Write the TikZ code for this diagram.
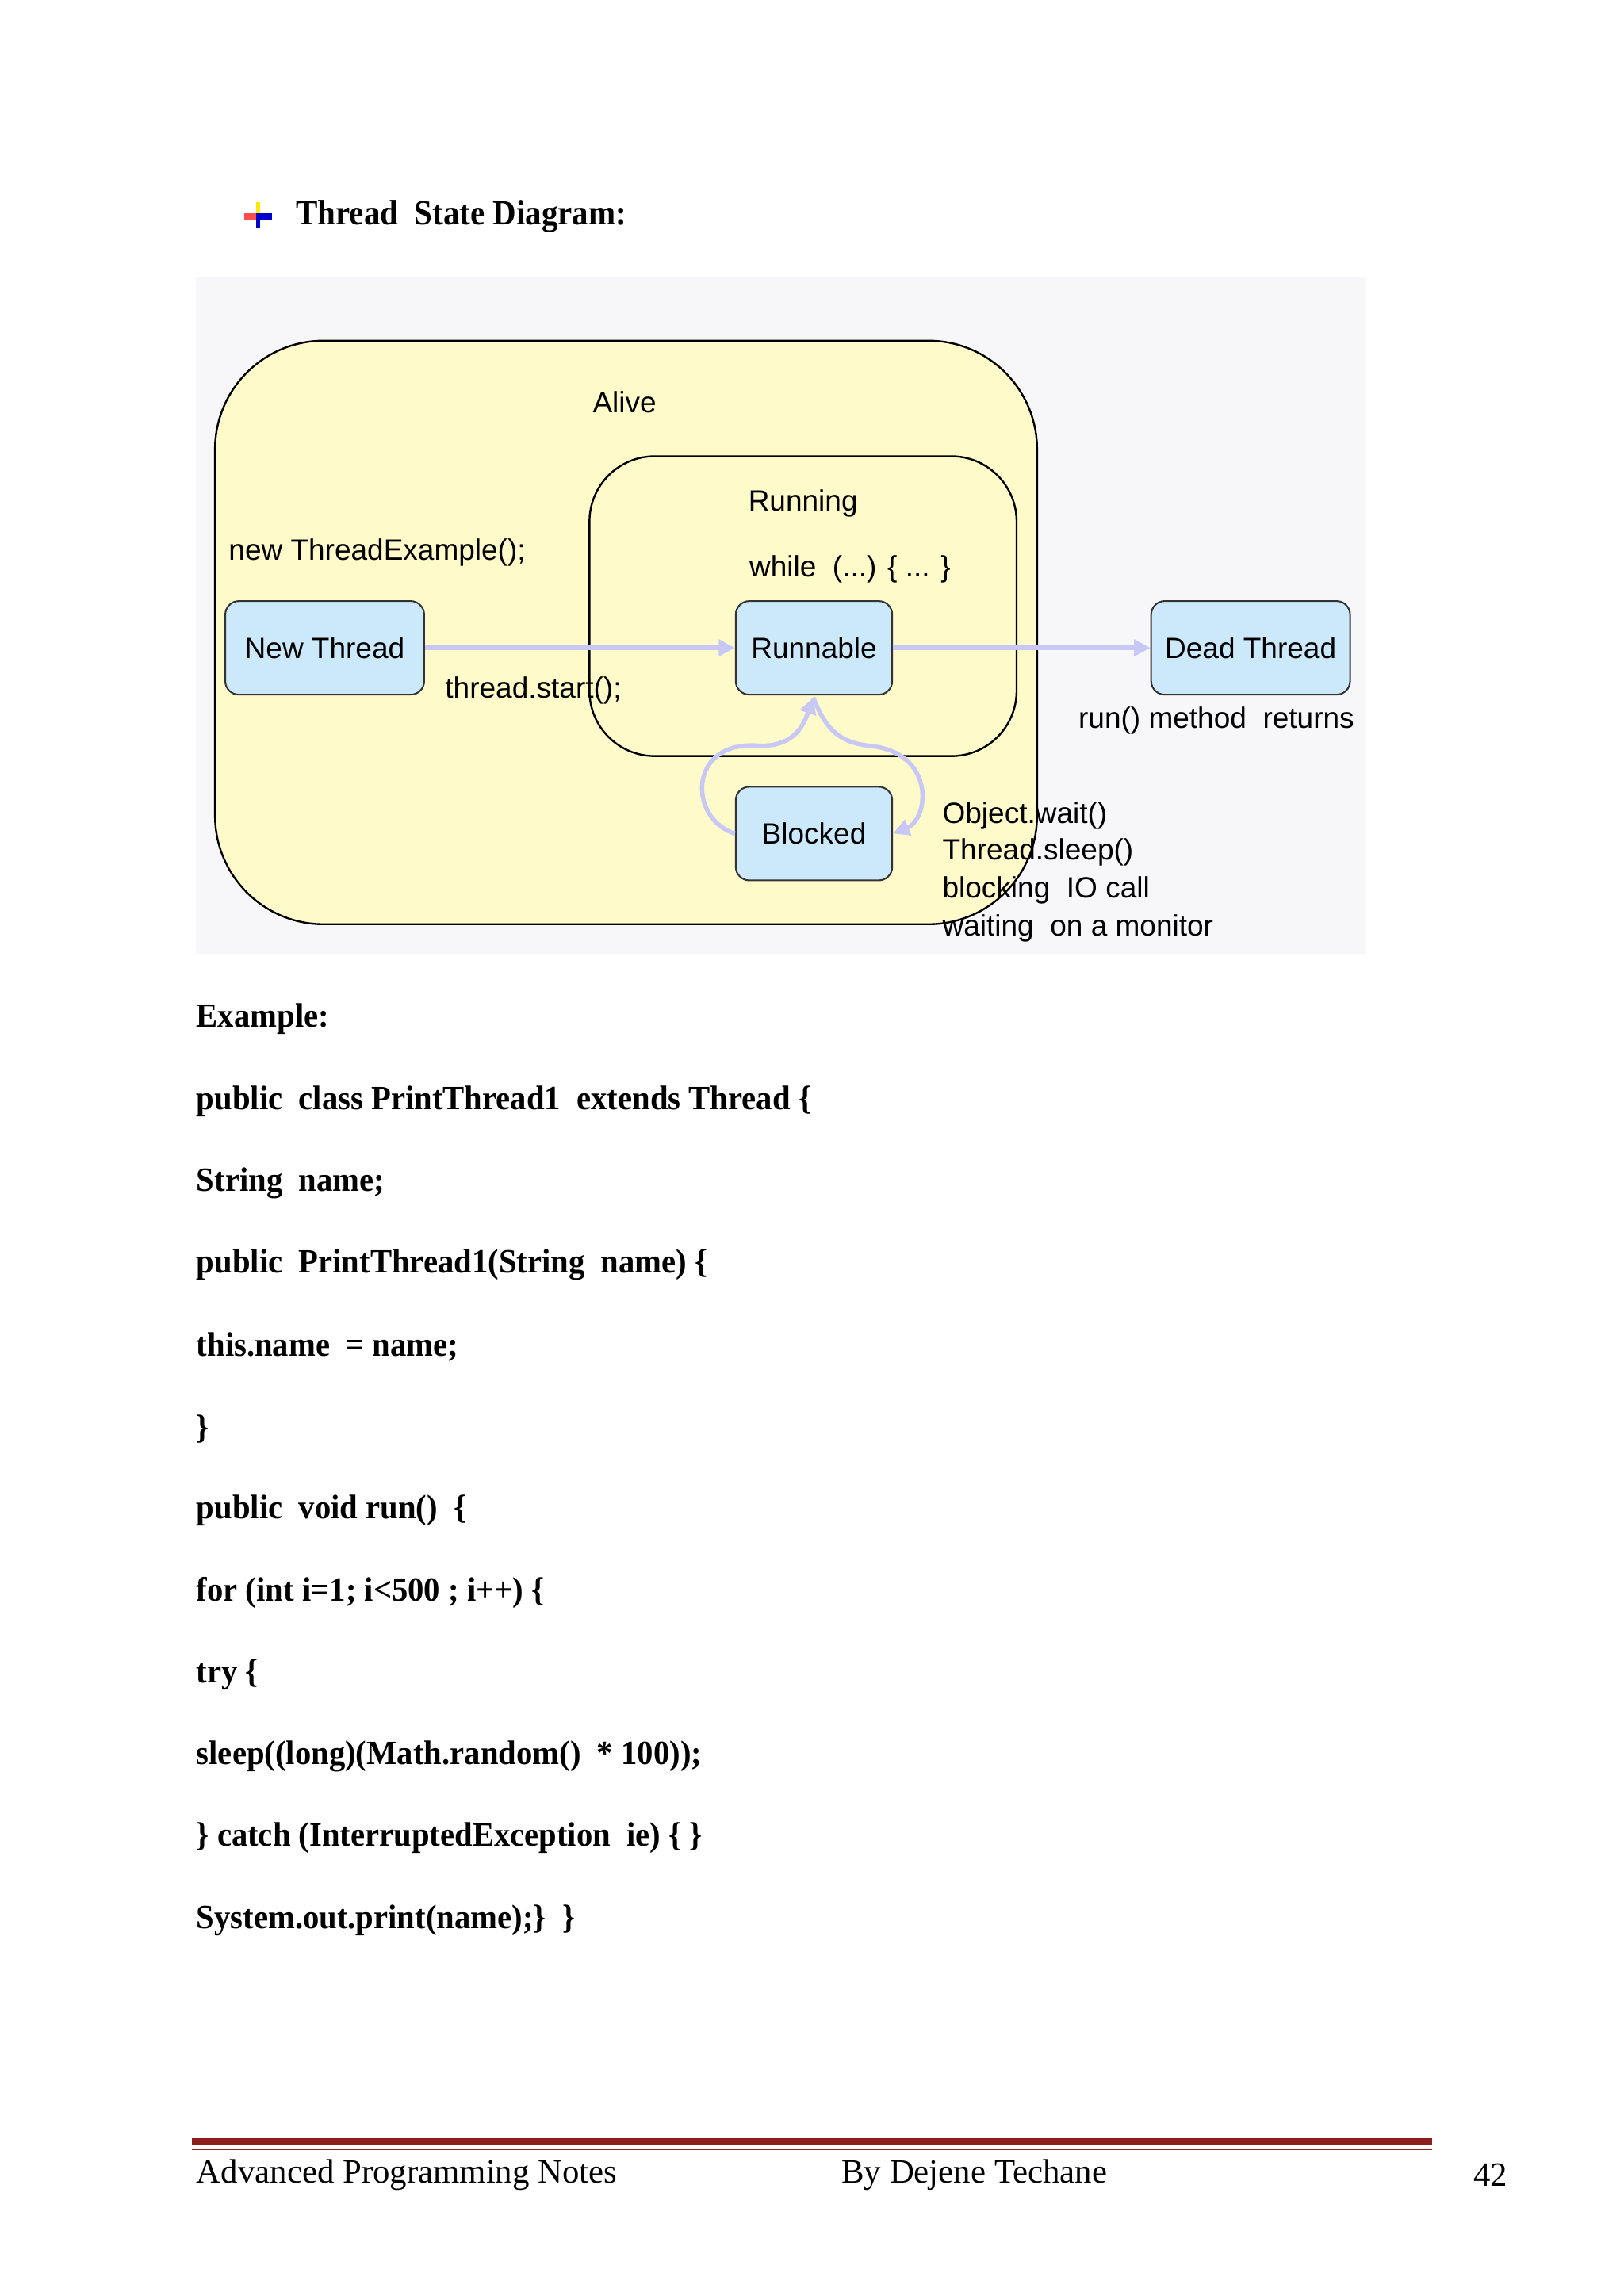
\documentclass[tikz,border=0pt]{standalone}
\usepackage{fontspec}
\setmainfont{Liberation Serif}
\newfontfamily\dsans{Liberation Sans}
\usetikzlibrary{arrows.meta}
\definecolor{bgc}{RGB}{247,247,250}
\definecolor{alivec}{RGB}{255,250,202}
\definecolor{nodec}{RGB}{204,232,251}
\definecolor{arrc}{RGB}{200,200,246}
\definecolor{footc}{RGB}{140,30,30}
\begin{document}
\begin{tikzpicture}[x=0.01892cm,y=-0.01892cm,
  st/.style={draw=black!80,fill=nodec,rounded corners=5pt,line width=0.6pt,minimum width=107*0.01892cm,minimum height=64*0.01892cm,font=\dsans\fontsize{10.8}{12}\selectfont,inner sep=0pt},
  lbl/.style={font=\dsans\fontsize{10.8}{12}\selectfont,inner sep=0pt},
  code/.style={font=\bfseries\fontsize{12.5}{14}\selectfont,anchor=west,inner sep=0pt,xscale=0.95,transform shape},
  arr/.style={draw=arrc,line width=1.6pt,-{Triangle[length=6pt,width=6pt]}},
  foot/.style={font=\fontsize{12.5}{14}\selectfont,anchor=west,inner sep=0pt}]
\useasboundingbox (0,0) rectangle (1110,1570);
\fill[white] (0,0) rectangle (1110,1570);
% header
\fill[yellow!90!orange] (175,138) rectangle (178,150);
\fill[red!70] (167,146) rectangle (175,150);
\fill[blue!80!black] (175,146) rectangle (186,150);
\fill[blue!80!black] (175,150) rectangle (178,156);
\node[anchor=west,inner sep=0pt,font=\bfseries\fontsize{13}{15}\selectfont,xscale=0.92,transform shape] (title) at (202,148) {Thread\ \ State Diagram:};
% diagram
\fill[bgc] (134,190) rectangle (934,652);
\draw[fill=alivec,line width=0.7pt,rounded corners=40pt] (147,233) rectangle (709,632);
\draw[line width=0.7pt,rounded corners=24pt] (403,312) rectangle (695,517);
\node[lbl] (alive) at (427,275) {Alive};
\node[lbl] (running) at (549,344) {Running};
\node[lbl,anchor=west] (while) at (512,389) {while\ \ (...) \{ ... \}};
\node[lbl,anchor=west] (newte) at (156,378) {new ThreadExample();};
\node[st,minimum width=136*0.01892cm] (new) at (222,443) {New Thread};
\node[st] (run) at (556.5,443) {Runnable};
\node[st,minimum width=136*0.01892cm] (dead) at (855,443) {Dead Thread};
\node[st] (blk) at (556.5,570) {Blocked};
\draw[arr] (new) -- (run);
\draw[arr] (run) -- (dead);
\coordinate (rb) at (556,477);
\draw[arr] (blk.west) .. controls (470,560) and (470,505) .. (520,510) .. controls (540,510) and (548,500) .. (rb);
\draw[arr] (rb) .. controls (565,500) and (575,508) .. (595,510) .. controls (640,515) and (635,560) .. (blk.east);
\node[lbl,anchor=west] (ts) at (304,472) {thread.start();};
\node[lbl,anchor=west] (rmr) at (737,493) {run() method\ \ returns};
\node[lbl,anchor=west] (w1) at (644,558) {Object.wait()};
\node[lbl,anchor=west] (w2) at (644,583) {Thread.sleep()};
\node[lbl,anchor=west] (w3) at (644,609) {blocking\ \ IO call};
\node[lbl,anchor=west] (w4) at (644,635) {waiting\ \ on a monitor};
% code
\node[code] (c0) at (134,697) {Example:};
\node[code] (c1) at (134,753) {public\ \ class PrintThread1\ \ extends Thread \{};
\node[code] (c2) at (134,809) {String\ \ name;};
\node[code] (c3) at (134,865) {public\ \ PrintThread1(String\ \ name) \{};
\node[code] (c4) at (134,921) {this.name\ \ = name;};
\node[code] (c5) at (134,977) {\}};
\node[code] (c6) at (134,1033) {public\ \ void run()\ \ \{};
\node[code] (c7) at (134,1089) {for (int i=1; i<500 ; i++) \{};
\node[code] (c8) at (134,1145) {try \{};
\node[code] (c9) at (134,1201) {sleep((long)(Math.random()\ \ * 100));};
\node[code] (c10) at (134,1257) {\} catch (InterruptedException\ \ ie) \{ \}};
\node[code] (c11) at (134,1313) {System.out.print(name);\}\ \ \}};
% footer
\fill[footc] (131,1462) rectangle (979,1467);
\fill[footc] (131,1469) rectangle (979,1470);
\node[foot] (f1) at (134,1487) {Advanced Programming Notes};
\node[foot] (f2) at (575,1487) {By Dejene Techane};
\node[foot] (f3) at (1007,1487) {42};
\end{tikzpicture}
\end{document}
